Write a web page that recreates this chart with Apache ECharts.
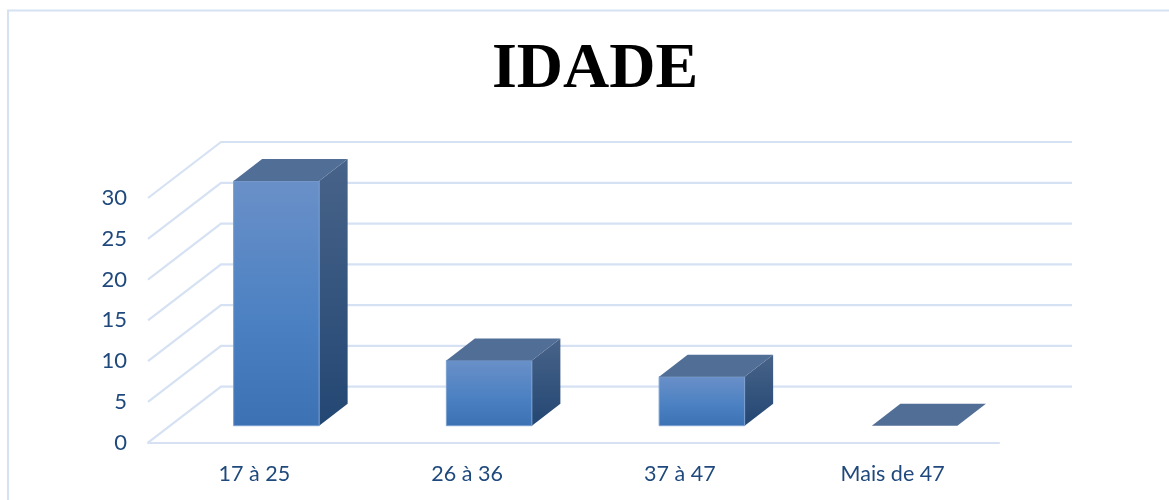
<!DOCTYPE html>
<html>
<head>
<meta charset="utf-8">
<style>html,body{margin:0;padding:0;background:#fff}#c{width:1169px;height:500px}</style>
<script src="https://cdn.jsdelivr.net/npm/echarts@6/dist/echarts.min.js"></script>
</head>
<body>
<div id="c"></div>
<script>
var titleText = 'IDADE';
var categories = ['17 à 25', '26 à 36', '37 à 47', 'Mais de 47'];
var values = [30, 8, 6, 0];
var yTicks = [0, 5, 10, 15, 20, 25, 30];

var GRID = '#d6e2f3', TEXT = '#1f497d';
var wallDX = 73, wallDY = -56;
var barDX = 22, barDY = -17, depthDX = 28.5, depthDY = -22;
var barRatio = 0.402;

var chart = echarts.init(document.getElementById('c'), null, {renderer: 'canvas'});

function wallItem(params, api) {
  var cs = params.coordSys;
  var p = api.coord([0, api.value(0)]);
  var y = p[1];
  return {
    type: 'polyline',
    silent: true,
    shape: {points: [[cs.x, y], [cs.x + wallDX, y + wallDY], [cs.x + cs.width + wallDX, y + wallDY]]},
    style: {stroke: GRID, lineWidth: 2.2, fill: null}
  };
}

function barItem(params, api) {
  var idx = api.value(0), val = api.value(1);
  var base = api.coord([idx, 0]);
  var top = api.coord([idx, val]);
  var w = api.size([1, 0])[0] * barRatio;
  var x0 = base[0] + barDX - w / 2, x1 = x0 + w;
  var yb = base[1] + barDY, yt = top[1] + barDY;
  var kids = [];
  if (yb - yt > 0.5) {
    kids.push({
      type: 'polygon',
      shape: {points: [[x1, yt], [x1 + depthDX, yt + depthDY], [x1 + depthDX, yb + depthDY], [x1, yb]]},
      style: {fill: new echarts.graphic.LinearGradient(0, 0, 0, 1, [
        {offset: 0, color: '#486389'}, {offset: 1, color: '#234773'}])}
    });
    kids.push({
      type: 'rect',
      shape: {x: x0, y: yt, width: w, height: yb - yt},
      style: {
        fill: new echarts.graphic.LinearGradient(0, 0, 0, 1, [
          {offset: 0, color: '#6a90c8'}, {offset: 0.6, color: '#4a80c2'}, {offset: 1, color: '#3c71b3'}]),
        stroke: '#7a9fd0', lineWidth: 1
      }
    });
  }
  kids.push({
    type: 'polygon',
    shape: {points: [[x0, yt], [x0 + depthDX, yt + depthDY], [x1 + depthDX, yt + depthDY], [x1, yt]]},
    style: {fill: '#516e96'}
  });
  return {type: 'group', children: kids};
}

chart.setOption({
  animation: false,
  backgroundColor: '#ffffff',
  title: {
    text: titleText,
    left: 590,
    textAlign: 'center',
    top: 33,
    textStyle: {fontFamily: '"Liberation Serif"', fontWeight: 'bold', fontSize: 64, color: '#000000'}
  },
  graphic: [
    {type: 'polyline', silent: true, z: 0,
     shape: {points: [[8, 500], [8, 10.5], [1169, 10.5]]},
     style: {stroke: '#d6e2f2', lineWidth: 2, fill: null}}
  ],
  grid: {left: 148, top: 198, width: 851, height: 244.7},
  xAxis: {
    type: 'category',
    data: categories,
    axisTick: {show: false},
    axisLine: {show: true, lineStyle: {color: GRID, width: 2.2}},
    axisLabel: {color: TEXT, fontFamily: 'Lato', fontSize: 21.5, margin: 20}
  },
  yAxis: {
    type: 'value',
    min: 0,
    max: 30,
    interval: 5,
    axisLine: {show: false},
    axisTick: {show: false},
    splitLine: {show: false},
    axisLabel: {color: TEXT, fontFamily: 'Lato', fontSize: 22, margin: 21, padding: [4, 0, 0, 0]}
  },
  series: [
    {
      type: 'custom',
      name: 'grid',
      silent: true,
      z: 1,
      coordinateSystem: 'cartesian2d',
      clip: false,
      encode: {y: 0},
      data: yTicks.map(function (t) { return [t]; }),
      renderItem: wallItem
    },
    {
      type: 'custom',
      name: 'IDADE',
      z: 2,
      coordinateSystem: 'cartesian2d',
      clip: false,
      encode: {x: 0, y: 1},
      data: values.map(function (v, i) { return [i, v]; }),
      renderItem: barItem
    }
  ]
});
</script>
</body>
</html>
